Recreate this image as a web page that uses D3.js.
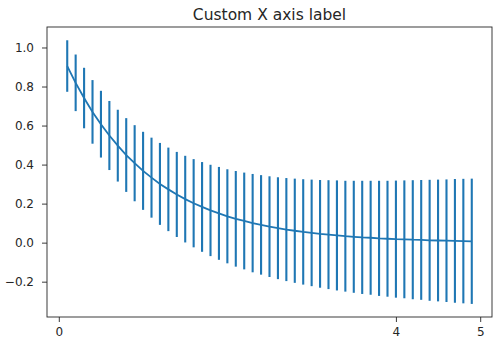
<!DOCTYPE html>
<html><head><meta charset="utf-8">
<script src="https://cdn.jsdelivr.net/npm/d3@7"></script>
<style>body{margin:0;background:#fff}svg{display:block}text{font-family:"DejaVu Sans",sans-serif;fill:#262626}</style>
</head><body><svg id="c" width="500" height="357"></svg>
<script>
const xs = [0.1,0.2,0.3,0.4,0.5,0.6,0.7,0.8,0.9,1.0,1.1,1.2,1.3,1.4,1.5,1.6,1.7,1.8,1.9,2.0,2.1,2.2,2.3,2.4,2.5,2.6,2.7,2.8,2.9,3.0,3.1,3.2,3.3,3.4,3.5,3.6,3.7,3.8,3.9,4.0,4.1,4.2,4.3,4.4,4.5,4.6,4.7,4.8,4.9];
const ys = [0.905,0.819,0.741,0.670,0.607,0.549,0.497,0.449,0.407,0.368,0.333,0.301,0.273,0.247,0.223,0.202,0.183,0.165,0.150,0.135,0.122,0.111,0.100,0.091,0.082,0.074,0.067,0.061,0.055,0.050,0.045,0.041,0.037,0.033,0.030,0.027,0.025,0.022,0.020,0.018,0.017,0.015,0.014,0.012,0.011,0.010,0.009,0.008,0.007];
const yerr = [0.132,0.145,0.155,0.163,0.171,0.177,0.184,0.189,0.195,0.200,0.205,0.210,0.214,0.218,0.222,0.226,0.230,0.234,0.238,0.241,0.245,0.248,0.252,0.255,0.258,0.261,0.264,0.267,0.270,0.273,0.276,0.279,0.282,0.284,0.287,0.290,0.292,0.295,0.297,0.300,0.302,0.305,0.307,0.310,0.312,0.314,0.317,0.319,0.321];
const xTicks = [0,4,5];
const xTickLabels = ["0","4","5"];
const yTicks = [-0.2,0.0,0.2,0.4,0.6,0.8,1.0];
const title = "Custom X axis label";

const L=47,R=492,T=27,B=317;
const svg=d3.select("#c");
const x=d3.scaleLinear().domain([-0.14,5.14]).range([L,R]);
const y=d3.scaleLinear().domain([-0.381,1.105]).range([B,T]);
const color="#1f77b4";

svg.append("g").selectAll("line").data(xs).join("line")
 .attr("x1",d=>x(d)).attr("x2",d=>x(d))
 .attr("y1",(d,i)=>y(ys[i]-yerr[i])).attr("y2",(d,i)=>y(ys[i]+yerr[i]))
 .attr("stroke",color).attr("stroke-width",2.1);

svg.append("path").datum(xs)
 .attr("d",d3.line().x(d=>x(d)).y((d,i)=>y(ys[i])))
 .attr("fill","none").attr("stroke",color).attr("stroke-width",1.8);

const gx=svg.append("g").attr("transform",`translate(0,${B})`)
 .call(d3.axisBottom(x).tickValues(xTicks).tickFormat((d,i)=>xTickLabels[i]).tickSize(5).tickPadding(5.5));
const gy=svg.append("g").attr("transform",`translate(${L},0)`)
 .call(d3.axisLeft(y).tickValues(yTicks).tickFormat(d=>d3.format(".1f")(d).replace("-","\u2212")).tickSize(5).tickPadding(8));
[gx,gy].forEach(g=>{g.select(".domain").remove();g.selectAll("text").style("font-size","12px").attr("fill","#262626");g.selectAll("line").attr("stroke","#262626").attr("stroke-width",0.9);});

svg.append("rect").attr("x",L).attr("y",T).attr("width",R-L).attr("height",B-T)
 .attr("fill","none").attr("stroke","#262626").attr("stroke-width",0.9);

svg.append("text").attr("x",(L+R)/2).attr("y",T-7).attr("text-anchor","middle").style("font-size","15.5px").text(title);
</script></body></html>
